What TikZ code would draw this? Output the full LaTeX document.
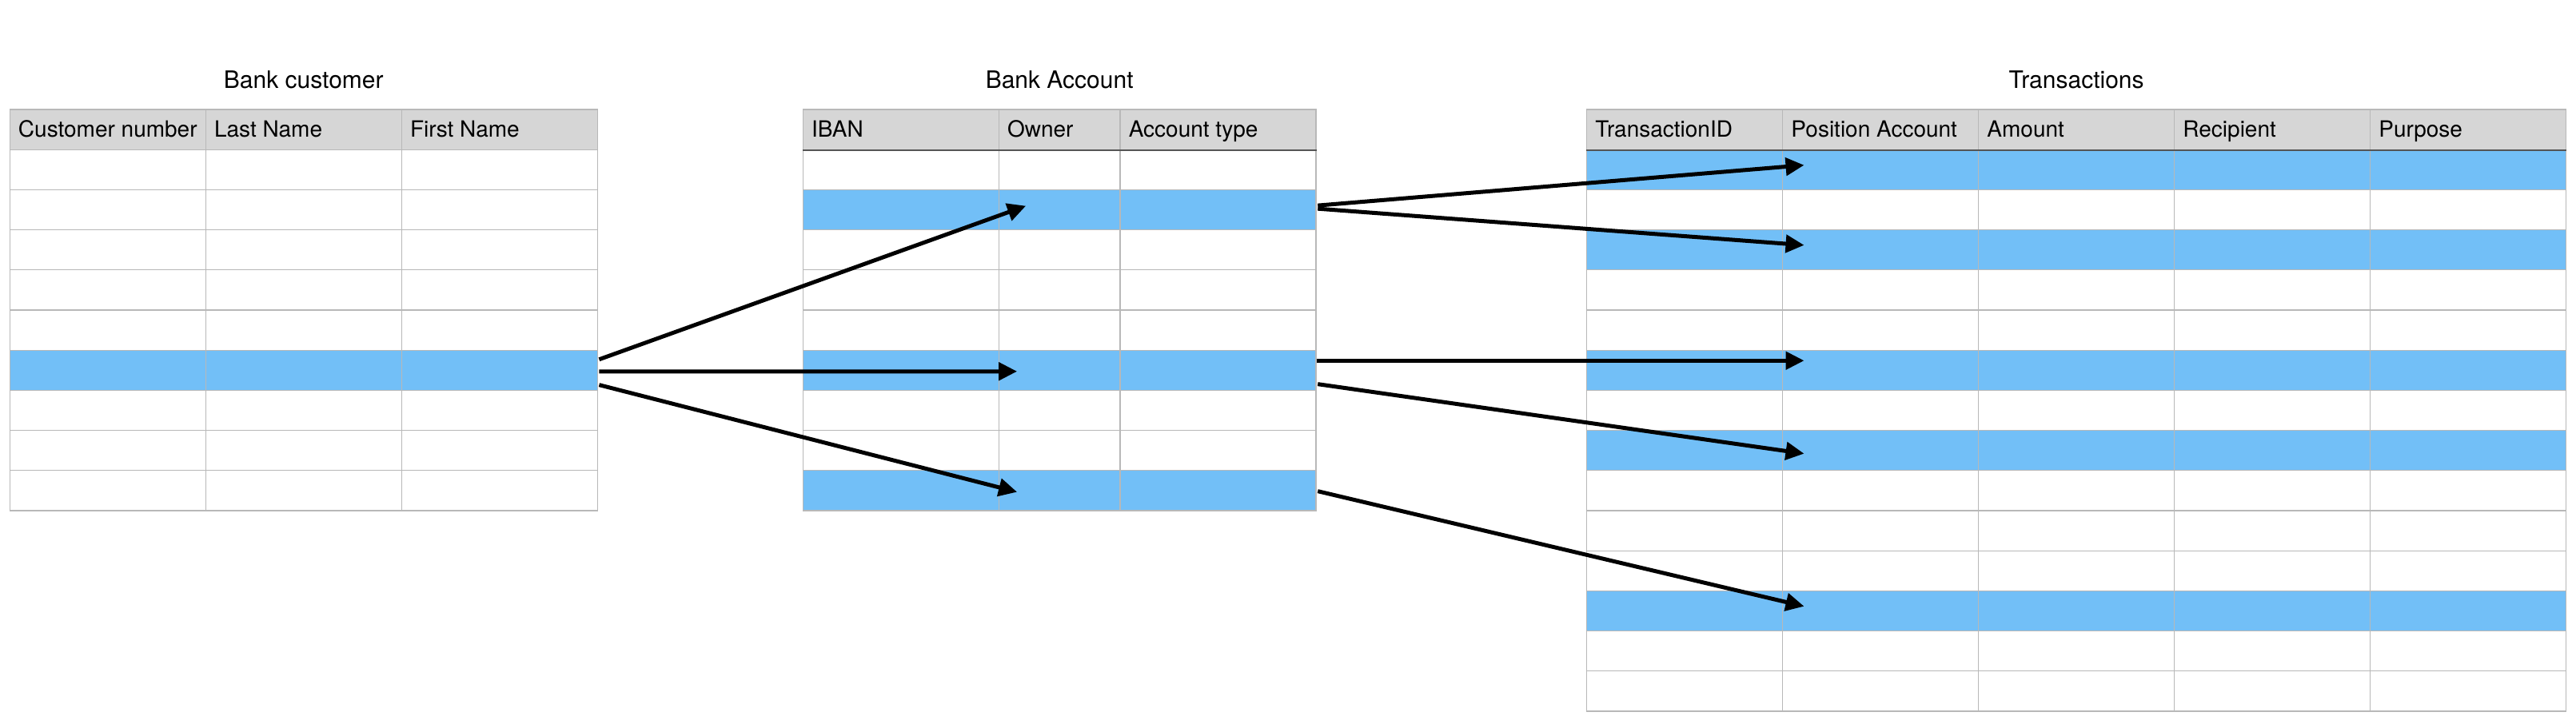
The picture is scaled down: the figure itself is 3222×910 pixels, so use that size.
\documentclass[tikz,border=0pt]{standalone}
\usepackage{fontspec}
\setmainfont{TeX Gyre Heros}
\usetikzlibrary{positioning,arrows.meta,calc}
\definecolor{rowBlue}{RGB}{114,191,247}
\definecolor{hdrGray}{RGB}{214,214,214}
\definecolor{gridGray}{RGB}{184,184,184}
\definecolor{ruleGray}{RGB}{85,85,85}
\tikzset{
    cell/.style={rectangle, draw=gridGray, line width=0.65pt, inner sep=0pt,
                 minimum height=25.1pt, anchor=north west},
    hdrcell/.style={cell, fill=hdrGray},
    bodycell/.style={cell, fill=white},
    markcell/.style={cell, fill=rowBlue},
    heading/.style={font=\fontsize{15}{18}\selectfont, inner sep=0pt},
    colhead/.style={font=\fontsize{14}{17}\selectfont, inner sep=0pt, anchor=base west},
    headrule/.style={draw=ruleGray, line width=0.8pt},
    link/.style={-{Triangle[length=11.5pt, width=11pt]}, line width=2.5pt, black}
}

\begin{document}
\begin{tikzpicture}[x=0.5pt, y=-0.5pt]
  \useasboundingbox (0,0) rectangle (3222,910);

  % Bank customer table
  \foreach \r/\kind in {0/hdrcell,1/bodycell,2/bodycell,3/bodycell,4/bodycell,5/bodycell,
                        6/markcell,7/bodycell,8/bodycell,9/bodycell}
    \foreach \c/\x in {1/11.6, 2/256.6, 3/501.6}
      \node[\kind, minimum width=122.5pt] (cust-\r-\c) at (\x,{136.3+\r*50.2}) {};
  \node[heading, above=12.65pt of cust-0-2] (cust-title) {Bank customer};
  \node[colhead] (cust-t1) at ($(cust-0-1.west)+(11,9.6)$) {Customer number};
  \node[colhead] (cust-t2) at ($(cust-0-2.west)+(11,9.6)$) {Last Name};
  \node[colhead] (cust-t3) at ($(cust-0-3.west)+(11,9.6)$) {First Name};

  % Bank Account table
  \foreach \r/\kind in {0/hdrcell,1/bodycell,2/markcell,3/bodycell,4/bodycell,5/bodycell,
                        6/markcell,7/bodycell,8/bodycell,9/markcell}
    \foreach \c/\x/\w in {1/1003.6/122.5pt, 2/1248.6/75.9pt, 3/1400.4/122.5pt}
      \node[\kind, minimum width=\w] (acc-\r-\c) at (\x,{136.3+\r*50.2}) {};
  \draw[headrule] (acc-0-1.south west) -- (acc-0-3.south east);
  \node[heading, above=12.65pt of acc-0-2] (acc-title) {Bank Account};
  \node[colhead] (acc-t1) at ($(acc-0-1.west)+(11,9.6)$) {IBAN};
  \node[colhead] (acc-t2) at ($(acc-0-2.west)+(11,9.6)$) {Owner};
  \node[colhead] (acc-t3) at ($(acc-0-3.west)+(11,9.6)$) {Account type};

  % Transactions table
  \foreach \r/\kind in {0/hdrcell,1/markcell,2/bodycell,3/markcell,4/bodycell,5/bodycell,
                        6/markcell,7/bodycell,8/markcell,9/bodycell,10/bodycell,11/bodycell,
                        12/markcell,13/bodycell,14/bodycell}
    \foreach \c/\x in {1/1984, 2/2229, 3/2474, 4/2719, 5/2964}
      \node[\kind, minimum width=122.5pt] (tx-\r-\c) at (\x,{136.3+\r*50.2}) {};
  \draw[headrule] (tx-0-1.south west) -- (tx-0-5.south east);
  \node[heading, above=12.65pt of tx-0-3] (tx-title) {Transactions};
  \node[colhead] (tx-t1) at ($(tx-0-1.west)+(11,9.6)$) {TransactionID};
  \node[colhead] (tx-t2) at ($(tx-0-2.west)+(11,9.6)$) {Position Account};
  \node[colhead] (tx-t3) at ($(tx-0-3.west)+(11,9.6)$) {Amount};
  \node[colhead] (tx-t4) at ($(tx-0-4.west)+(11,9.6)$) {Recipient};
  \node[colhead] (tx-t5) at ($(tx-0-5.west)+(11,9.6)$) {Purpose};

  % customer -> accounts
  \draw[link] ($(cust-6-3.east)+(1.5,-13.5)$) -- ($(acc-2-2.west)+(34.5,-4.8)$);
  \draw[link] ($(cust-6-3.east)+(1.5,1.7)$) -- ($(acc-6-2.west)+(23.5,1.5)$);
  \draw[link] ($(cust-6-3.east)+(1.5,18.4)$) -- ($(acc-9-2.west)+(23.5,1.8)$);

  % accounts -> transactions
  \draw[link] ($(acc-2-3.east)+(1.5,-5.3)$) -- ($(tx-1-2.west)+(27.5,-5.6)$);
  \draw[link] ($(acc-2-3.east)+(1.5,-1.3)$) -- ($(tx-3-2.west)+(27.5,-5.9)$);
  \draw[link] ($(acc-6-3.east)+(0,-12)$) -- ($(tx-6-2.west)+(27.5,-12)$);
  \draw[link] ($(acc-6-3.east)+(1.5,17.4)$) -- ($(tx-8-2.west)+(27.5,4)$);
  \draw[link] ($(acc-9-3.east)+(1.5,0.8)$) -- ($(tx-12-2.west)+(27.5,-5.7)$);
\end{tikzpicture}
\end{document}
